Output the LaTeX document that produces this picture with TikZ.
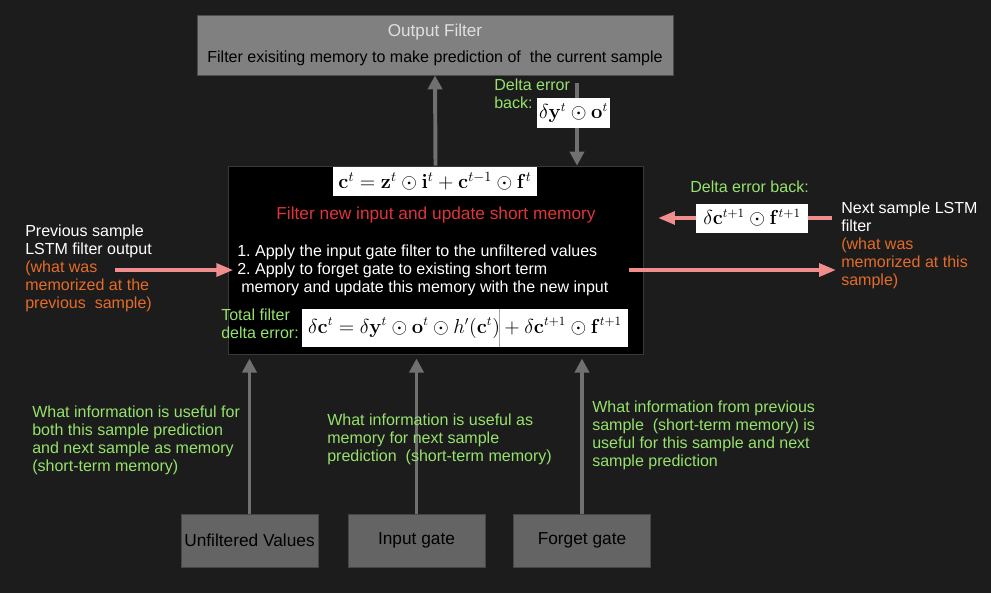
\documentclass[tikz,border=0pt]{standalone}
\usepackage{amsmath}
\usepackage[no-math]{fontspec}
\setmainfont{Liberation Sans}
\usetikzlibrary{arrows.meta, positioning}

\definecolor{bgcol}{RGB}{28,28,28}
\definecolor{outgray}{RGB}{128,128,128}
\definecolor{gategray}{RGB}{100,100,100}
\definecolor{linegray}{RGB}{112,112,112}
\definecolor{pinkline}{RGB}{240,142,142}
\definecolor{notegreen}{RGB}{150,226,108}
\definecolor{memorange}{RGB}{228,108,40}
\definecolor{filtred}{RGB}{222,52,58}

\begin{document}
\frenchspacing
\begin{tikzpicture}[
    x=0.025cm, y=-0.025cm,
    font=\fontsize{11.4}{12.8}\selectfont,
    graybox/.style={draw=gategray!70!black, fill=gategray, text=black, minimum width=3.425cm, minimum height=1.325cm, inner sep=0pt, font=\fontsize{12.3}{14}\selectfont},
    eqbox/.style={fill=white, text=black, inner sep=0pt, font=\fontsize{13.5}{16}\selectfont},
    note/.style={text=notegreen, align=left, inner sep=0pt, anchor=west},
    grayarrow/.style={draw=linegray, line width=2.8pt, -{Triangle[length=10pt, width=10pt]}},
    pinkarrow/.style={draw=pinkline, line width=2.8pt, -{Triangle[length=12pt, width=9pt]}}
]

% Background and frame
\fill[bgcol] (0,0) rectangle (991,593);
\useasboundingbox (0,0) rectangle (991,593);

% Output filter on top
\node (Out) at (435,45) [draw=outgray!60!black, fill=outgray, minimum width=11.9cm, minimum height=1.5cm, align=center, inner sep=0pt]
    {\textcolor{white!88!black}{\fontsize{12.2}{14}\selectfont Output Filter}\\[6pt] Filter exisiting memory to make prediction of\ \ the current sample};

% Memory cell (black box)
\node (Mem) at (435.5,260) [draw=gray!45!black, fill=black, minimum width=10.375cm, minimum height=4.7cm] {};

\draw[grayarrow] (Mem.north) -- (Out.south);

% Delta error coming back from the output
\coordinate (DTop) at (577,83);
\draw[grayarrow] (DTop) -- (DTop |- Mem.north);
\node (DLab) at (494,94) [note] {Delta error\\back:};
\node (DYO) at (573.5,113) [eqbox, minimum width=1.825cm, minimum height=0.75cm] {$\delta\mathbf{y}^t\odot\mathbf{o}^t$};

% Inside the memory cell
\node (Ct) at (435,181) [eqbox, minimum width=5.1cm, minimum height=0.725cm, font=\fontsize{14}{16}\selectfont]
    {$\mathbf{c}^t=\mathbf{z}^t\odot\mathbf{i}^t+\mathbf{c}^{t-1}\odot\mathbf{f}^t$};
\node (Filt) at (436,215) [text=filtred, font=\fontsize{12.3}{14}\selectfont] {Filter new input and update short memory};
\node (Steps) at (237,270) [anchor=west, align=left, text=white, inner sep=0pt]
    {1. Apply the input gate filter to the unfiltered values\\
     2. Apply to forget gate to existing short term\\
     \hspace*{0.25em}memory and update this memory with the new input};
\node (Tot) at (221,324) [note] {Total filter\\delta error:};
\node (DCt) at (465,328) [eqbox, minimum width=8.15cm, minimum height=0.95cm]
    {$\delta\mathbf{c}^t=\delta\mathbf{y}^t\odot\mathbf{o}^t\odot h'(\mathbf{c}^t)+\delta\mathbf{c}^{t+1}\odot\mathbf{f}^{t+1}$};
\draw[gray!70] (DCt.north -| 499,0) -- (DCt.south -| 499,0);

% Previous sample (left)
\node (Prev) at (25,268) [anchor=west, align=left, inner sep=0pt, text=white]
    {Previous sample\\LSTM filter output\\
     \textcolor{memorange}{(what was}\\
     \textcolor{memorange}{memorized at the}\\
     \textcolor{memorange}{previous\ \ sample)}};
\coordinate (PIn) at (115,270);
\draw[pinkarrow, shorten >=-4pt] (PIn) -- (PIn -| Mem.west);

% Next sample (right)
\node (Next) at (841,245) [anchor=west, align=left, inner sep=0pt, text=white]
    {Next sample LSTM\\filter\\
     \textcolor{memorange}{(what was}\\
     \textcolor{memorange}{memorized at this}\\
     \textcolor{memorange}{sample)}};
\coordinate (NIn) at (832,218);
\coordinate (NOut) at (836,270);
\draw[pinkarrow, shorten >=10.5pt] (NIn) -- (NIn -| Mem.east);
\draw[pinkarrow, shorten <=-10.5pt] (NOut -| Mem.east) -- (NOut);
\node (BLab) at (690,187) [note] {Delta error back:};
\node (DCF) at (752,218) [eqbox, minimum width=2.8cm, minimum height=0.725cm] {$\delta\mathbf{c}^{t+1}\odot\mathbf{f}^{t+1}$};

% Gates at the bottom
\node (Uv) at (249.5,540.5) [graybox] {Unfiltered Values};
\node (Ig) at (416.5,540.5) [graybox] {Input gate};
\node (Fg) at (582,540.5) [graybox] {Forget gate};

\draw[grayarrow, shorten >=3pt] (Uv.north) -- (Uv.north |- Mem.south);
\draw[grayarrow, shorten >=3pt] (Ig.north) -- (Ig.north |- Mem.south);
\draw[grayarrow, shorten >=3pt] (Fg.north) -- (Fg.north |- Mem.south);

% Notes for the gates
\node (N1) at (32,440) [note] {What information is useful for\\both this sample prediction\\and next sample as memory\\(short-term memory)};
\node (N2) at (327,439) [note] {What information is useful as\\memory for next sample\\prediction\ \ (short-term memory)};
\node (N3) at (592,435) [note] {What information from previous\\sample\ \ (short-term memory) is\\useful for this sample and next\\sample prediction};

\end{tikzpicture}
\end{document}
